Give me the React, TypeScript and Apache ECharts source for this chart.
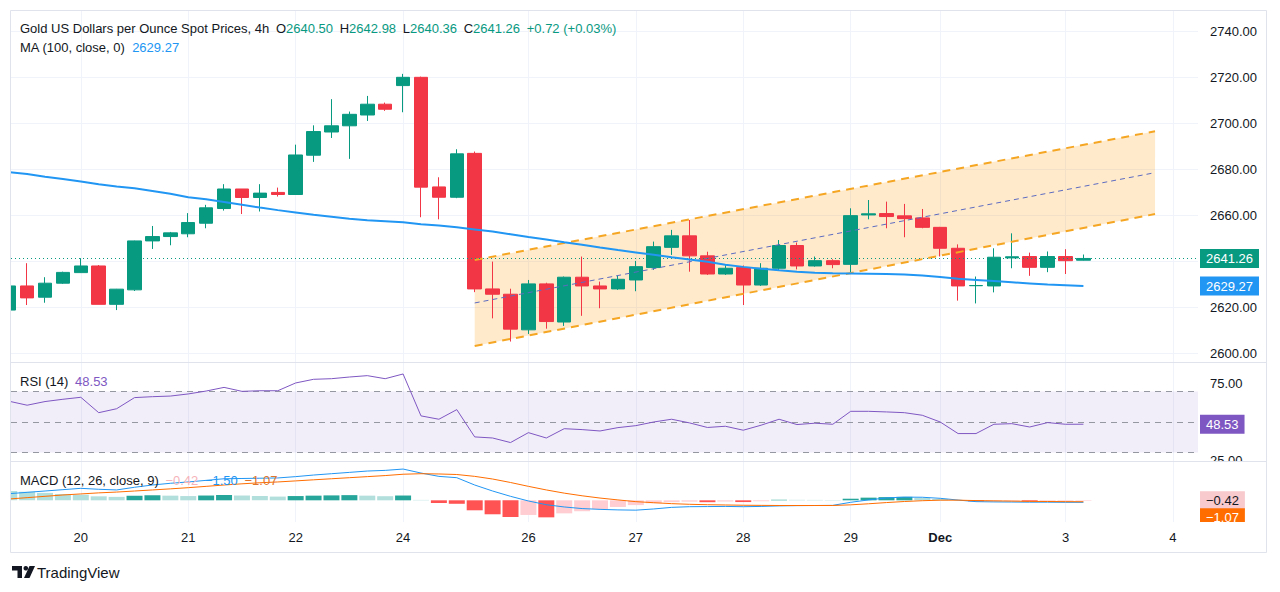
import React, { useEffect, useRef } from "react";
import * as echarts from "echarts";

// ---------- DATA ----------
const candleIndex = [-4, -3, -2, -1, 0, 1, 2, 3, 4, 5, 6, 7, 8, 9, 10, 11, 12, 13, 14, 15, 16, 17, 18, 19, 20, 21, 22, 23, 24, 25, 26, 27, 28, 29, 30, 31, 32, 33, 34, 35, 36, 37, 38, 39, 40, 41, 42, 43, 44, 45, 46, 47, 48, 49, 50, 51, 52, 53, 54, 55, 56];
const openP = [2618.8, 2629.3, 2624.4, 2630.5, 2635.1, 2638.0, 2621.3, 2627.6, 2648.9, 2650.8, 2652.0, 2656.6, 2663.0, 2671.5, 2667.8, 2670.0, 2669.1, 2686.2, 2696.3, 2699.0, 2703.7, 2708.4, 2716.5, 2720.1, 2672.4, 2667.9, 2687.0, 2628.0, 2625.7, 2610.2, 2630.2, 2613.6, 2633.1, 2629.3, 2628.0, 2631.9, 2637.3, 2646.1, 2651.1, 2642.4, 2634.5, 2637.3, 2629.7, 2637.0, 2646.9, 2638.0, 2640.3, 2638.7, 2660.2, 2660.8, 2659.8, 2658.9, 2654.8, 2645.7, 2629.4, 2629.3, 2641.5, 2642.1, 2637.4, 2642.1, 2640.5];
const closeP = [2629.3, 2624.1, 2630.5, 2635.2, 2638.0, 2621.3, 2627.9, 2648.9, 2650.8, 2652.4, 2656.9, 2663.3, 2671.5, 2667.8, 2669.7, 2669.1, 2686.3, 2696.5, 2699.0, 2704.0, 2708.4, 2706.2, 2720.1, 2672.3, 2667.9, 2686.8, 2628.0, 2625.7, 2610.5, 2630.2, 2613.8, 2633.1, 2629.3, 2628.0, 2632.2, 2637.7, 2646.4, 2651.1, 2642.4, 2634.5, 2637.0, 2629.7, 2637.0, 2646.9, 2638.0, 2640.3, 2638.6, 2659.9, 2660.7, 2659.5, 2658.6, 2654.8, 2645.7, 2629.3, 2629.5, 2641.8, 2642.0, 2637.4, 2642.1, 2640.3, 2641.26];
const lowP = [2618.5, 2621.0, 2622.0, 2630.2, 2635.0, 2621.3, 2618.8, 2627.1, 2645.4, 2647.0, 2650.5, 2654.4, 2662.1, 2660.6, 2661.7, 2668.2, 2669.0, 2683.3, 2693.7, 2684.6, 2701.1, 2705.5, 2704.9, 2659.2, 2658.3, 2667.5, 2626.6, 2615.2, 2605.1, 2608.4, 2610.7, 2611.9, 2616.3, 2619.6, 2627.6, 2627.0, 2636.3, 2642.8, 2635.5, 2634.1, 2634.1, 2621.0, 2629.3, 2635.8, 2636.5, 2637.7, 2637.0, 2634.8, 2658.3, 2654.4, 2650.5, 2654.4, 2642.1, 2622.9, 2621.7, 2626.5, 2637.0, 2633.7, 2635.3, 2634.5, 2640.36];
const highP = [2629.6, 2639.2, 2633.1, 2635.5, 2641.4, 2638.4, 2628.0, 2649.0, 2655.4, 2652.8, 2661.0, 2664.6, 2673.6, 2671.5, 2673.6, 2672.1, 2690.8, 2699.2, 2710.6, 2705.2, 2712.0, 2709.1, 2721.6, 2720.4, 2676.6, 2688.8, 2687.8, 2639.9, 2628.1, 2631.9, 2630.7, 2633.4, 2642.1, 2631.2, 2633.7, 2640.2, 2648.6, 2653.7, 2658.0, 2644.2, 2638.4, 2638.2, 2639.2, 2649.3, 2648.2, 2642.1, 2640.9, 2663.1, 2666.7, 2666.0, 2665.0, 2662.8, 2655.0, 2647.4, 2633.4, 2645.7, 2652.2, 2643.8, 2644.3, 2645.3, 2642.98];
const ma100 = [2678.8, 2678.0, 2676.8, 2675.8, 2674.8, 2673.6, 2672.6, 2671.8, 2670.6, 2669.4, 2667.9, 2667.0, 2665.8, 2664.6, 2663.4, 2662.3, 2661.3, 2660.3, 2659.4, 2658.5, 2657.9, 2657.5, 2657.0, 2656.2, 2655.6, 2654.8, 2653.9, 2653.0, 2651.8, 2650.6, 2649.5, 2648.3, 2647.2, 2646.0, 2644.9, 2643.9, 2642.9, 2641.8, 2640.8, 2639.8, 2638.5, 2637.6, 2636.8, 2636.1, 2635.5, 2635.0, 2634.8, 2634.7, 2634.6, 2634.5, 2634.3, 2633.8, 2633.2, 2632.4, 2631.9, 2631.4, 2630.9, 2630.4, 2629.9, 2629.6, 2629.27];
const rsi14 = [63.6, 61.0, 63.4, 64.9, 66.2, 56.1, 58.7, 66.0, 66.6, 67.0, 68.4, 70.3, 72.7, 70.1, 70.5, 70.5, 75.6, 78.0, 78.4, 79.5, 80.4, 78.4, 81.5, 54.0, 51.8, 58.1, 40.2, 39.5, 36.5, 43.0, 39.5, 45.6, 45.0, 44.1, 46.3, 47.6, 50.0, 51.8, 49.4, 46.4, 47.2, 44.6, 47.9, 51.8, 48.3, 49.2, 48.5, 57.0, 57.0, 56.6, 56.1, 54.4, 50.0, 42.4, 42.4, 48.5, 48.9, 46.7, 49.6, 48.5, 48.53];
const macdLine = [5.0, 6.0, 7.0, 8.0, 9.0, 8.3, 7.8, 9.8, 11.5, 12.8, 13.8, 15.0, 16.2, 16.4, 16.6, 16.8, 17.8, 19.0, 20.0, 21.0, 22.0, 22.5, 23.5, 20.5, 18.0, 17.0, 11.5, 7.0, 3.0, -0.5, -3.3, -5.0, -6.2, -6.8, -7.2, -7.4, -6.5, -5.3, -4.8, -4.7, -4.6, -4.8, -4.6, -4.2, -4.0, -3.9, -3.8, -1.5, 0.3, 1.8, 2.4, 2.3, 1.5, 0.2, -1.0, -1.2, -1.3, -1.4, -1.4, -1.5, -1.5];
const signalLine = [1.0, 2.0, 3.0, 4.0, 4.8, 5.6, 6.2, 7.0, 7.8, 8.6, 9.5, 10.5, 11.5, 12.4, 13.2, 13.8, 14.6, 15.4, 16.2, 17.0, 17.8, 18.6, 19.6, 20.0, 19.8, 19.4, 18.0, 16.0, 13.4, 10.5, 7.8, 5.4, 3.4, 1.7, 0.3, -1.0, -1.8, -2.5, -3.0, -3.3, -3.5, -3.7, -3.8, -3.9, -3.9, -3.9, -3.9, -3.4, -2.6, -1.7, -0.9, -0.3, 0.1, 0.1, -0.2, -0.4, -0.6, -0.8, -0.9, -1.0, -1.07];
const macdHist = [7.0, 6.4, 5.6, 4.8, 4.2, 3.0, 2.6, 3.4, 3.8, 3.5, 3.2, 3.6, 4.0, 3.6, 3.2, 2.8, 3.2, 3.5, 3.7, 3.9, 3.5, 3.1, 3.6, 0.3, -2.0, -2.6, -7.5, -10.5, -12.5, -11.0, -12.8, -9.8, -8.2, -6.6, -5.0, -3.6, -2.2, -1.4, -1.0, -1.4, -0.9, -1.3, -0.7, 0.4, 0.35, 0.3, 0.25, 1.2, 2.0, 2.4, 2.6, 1.8, 1.0, 0.1, -0.8, -0.7, -0.6, -0.9, -0.5, -0.5, -0.42];

const channelX = [22, 60];
const channelUpper = [2640.6, 2696.6];
const channelMid = [2621.9, 2678.6];
const channelLower = [2603.2, 2660.6];

const dayIdx = [0, 6, 12, 18, 25, 31, 37, 43, 48, 55, 61];
const dayLabels = ["20", "21", "22", "24", "26", "27", "28", "29", "Dec", "3", "4"];
const priceGrid = [2600, 2620, 2640, 2660, 2680, 2700, 2720, 2740];
const priceLabels = [2600, 2620, 2660, 2680, 2700, 2720, 2740];
const rsiLabels = [75, 25];
const rsiLevels = [70, 50, 30];

const lastPrice = 2641.26;
const lastMA = 2629.27;
const lastRSI = 48.53;
const lastHist = -0.42;
const lastSignal = -1.07;

// ---------- STYLE ----------
const FONT = "'Liberation Sans', Arial, sans-serif";
const UP = "#089981";
const DOWN = "#f23645";
const TXT = "#131722";
const GRID = "#f0f3fa";
const BORDER = "#e0e3eb";
const HIDDEN_LINE = { width: 0, color: "rgba(0,0,0,0)" };

function histColor(i: number) {
  const v = macdHist[i];
  const p = i > 0 ? macdHist[i - 1] : v;
  if (v >= 0) return v > p ? "#26a69a" : "#b2dfdb";
  return v < p ? "#ff5252" : "#ffcdd2";
}

export default function App() {
  const ref = useRef<HTMLDivElement>(null);
  useEffect(() => {
    const chart = echarts.init(ref.current!, null, { renderer: "svg" });
    const xAxisBase = (g: number) => ({
      type: "value",
      gridIndex: g,
      min: -3.9,
      max: 62.4,
      axisLine: { show: false },
      axisTick: { show: false, customValues: dayIdx },
      splitLine: { show: true, lineStyle: { color: GRID, width: 1 } },
      axisLabel: {
        show: g === 2,
        customValues: dayIdx,
        margin: 9,
        color: TXT,
        fontSize: 13,
        fontFamily: FONT,
        formatter: (v: number) => {
          const k = dayIdx.indexOf(Math.round(v));
          const s = k >= 0 ? dayLabels[k] : "";
          return s === "Dec" ? "{b|Dec}" : s;
        },
        rich: { b: { fontWeight: "bold", fontSize: 13, color: TXT, fontFamily: FONT } },
      },
    });
    const tagLabel = (text: string, bg: string, fg: string, offsetY = 0) => ({
      show: true,
      position: "end",
      distance: 2,
      formatter: text,
      backgroundColor: bg,
      color: fg,
      padding: [3, 6, 3, 6],
      fontSize: 13,
      fontFamily: FONT,
      offset: [0, offsetY],
    });
    const option: any = {
      animation: false,
      textStyle: { fontFamily: FONT },
      grid: [
        { left: 11, right: 82, top: 10, height: 352 },
        { left: 11, right: 82, top: 363, height: 98 },
        { left: 11, right: 82, top: 462, height: 60 },
      ],
      xAxis: [xAxisBase(0), xAxisBase(1), xAxisBase(2)],
      yAxis: [
        {
          type: "value",
          gridIndex: 0,
          position: "right",
          min: 2596.2,
          max: 2749.4,
          axisLine: { show: false },
          axisTick: { show: false, customValues: priceGrid },
          splitLine: { show: true, lineStyle: { color: GRID } },
          axisLabel: {
            customValues: priceLabels,
            margin: 12,
            color: TXT,
            fontSize: 13,
            fontFamily: FONT,
            formatter: (v: number) => v.toFixed(2),
          },
        },
        {
          type: "value",
          gridIndex: 1,
          position: "right",
          min: 24.4,
          max: 88.7,
          axisLine: { show: false },
          axisTick: { show: false, customValues: rsiLabels },
          splitLine: { show: false },
          axisLabel: {
            customValues: rsiLabels,
            margin: 12,
            color: TXT,
            fontSize: 13,
            fontFamily: FONT,
            formatter: (v: number) => v.toFixed(2),
          },
        },
        {
          type: "value",
          gridIndex: 2,
          position: "right",
          min: -16.3,
          max: 28.8,
          axisLine: { show: false },
          axisTick: { show: false },
          splitLine: { show: false },
          axisLabel: { show: false },
        },
      ],
      series: [
        {
          type: "custom",
          xAxisIndex: 0,
          yAxisIndex: 0,
          z: 1,
          silent: true,
          clip: true,
          data: channelX.map((x, i) => [x, channelUpper[i], channelLower[i]]),
          encode: { x: 0, y: [1, 2] },
          renderItem: (params: any, api: any) => {
            if (params.dataIndex !== 0) return null;
            const pts = [
              api.coord([channelX[0], channelUpper[0]]),
              api.coord([channelX[1], channelUpper[1]]),
              api.coord([channelX[1], channelLower[1]]),
              api.coord([channelX[0], channelLower[0]]),
            ];
            return { type: "polygon", shape: { points: pts }, style: { fill: "rgba(255,152,0,0.2)" } };
          },
        },
        {
          type: "candlestick",
          xAxisIndex: 0,
          yAxisIndex: 0,
          z: 3,
          clip: true,
          barWidth: 14,
          data: candleIndex.map((x, i) => [x, openP[i], closeP[i], lowP[i], highP[i]]),
          encode: { x: 0, y: [1, 2, 3, 4] },
          itemStyle: { color: UP, color0: DOWN, borderColor: UP, borderColor0: DOWN, borderWidth: 1 },
          markLine: {
            silent: true,
            symbol: ["none", "none"],
            animation: false,
            data: [
              {
                yAxis: lastPrice,
                lineStyle: { color: UP, width: 1, type: [1, 3] },
                label: tagLabel(lastPrice.toFixed(2), UP, "#ffffff"),
              },
            ],
          },
        },
        {
          type: "line",
          xAxisIndex: 0,
          yAxisIndex: 0,
          z: 4,
          silent: true,
          symbol: "none",
          data: channelX.map((x, i) => [x, channelUpper[i]]),
          lineStyle: { color: "#f5a623", width: 2, type: [8, 6] },
        },
        {
          type: "line",
          xAxisIndex: 0,
          yAxisIndex: 0,
          z: 4,
          silent: true,
          symbol: "none",
          data: channelX.map((x, i) => [x, channelLower[i]]),
          lineStyle: { color: "#f5a623", width: 2, type: [8, 6] },
        },
        {
          type: "line",
          xAxisIndex: 0,
          yAxisIndex: 0,
          z: 4,
          silent: true,
          symbol: "none",
          data: channelX.map((x, i) => [x, channelMid[i]]),
          lineStyle: { color: "#5c6bc0", width: 1, type: [5, 4] },
        },
        {
          type: "line",
          xAxisIndex: 0,
          yAxisIndex: 0,
          z: 5,
          silent: true,
          symbol: "none",
          data: candleIndex.map((x, i) => [x, ma100[i]]),
          lineStyle: { color: "#2196f3", width: 2 },
          markLine: {
            silent: true,
            symbol: ["none", "none"],
            data: [
              {
                yAxis: lastMA,
                lineStyle: HIDDEN_LINE,
                label: tagLabel(lastMA.toFixed(2), "#2196f3", "#ffffff"),
              },
            ],
          },
        },
        {
          type: "line",
          xAxisIndex: 1,
          yAxisIndex: 1,
          z: 5,
          silent: true,
          symbol: "none",
          data: candleIndex.map((x, i) => [x, rsi14[i]]),
          lineStyle: { color: "#7e57c2", width: 1 },
          markArea: {
            silent: true,
            itemStyle: { color: "rgba(126,87,194,0.1)" },
            data: [[{ yAxis: rsiLevels[2] }, { yAxis: rsiLevels[0] }]],
          },
          markLine: {
            silent: true,
            symbol: ["none", "none"],
            data: [
              ...rsiLevels.map((lv) => ({
                yAxis: lv,
                lineStyle: { color: "#9598a1", width: 1, type: [6, 5] },
                label: { show: false },
              })),
              {
                yAxis: lastRSI,
                lineStyle: HIDDEN_LINE,
                label: tagLabel(lastRSI.toFixed(2), "#7e57c2", "#ffffff"),
              },
            ],
          },
        },
        {
          type: "bar",
          xAxisIndex: 2,
          yAxisIndex: 2,
          z: 3,
          silent: true,
          clip: true,
          barWidth: 16,
          data: candleIndex.map((x, i) => ({ value: [x, macdHist[i]], itemStyle: { color: histColor(i) } })),
          markLine: {
            silent: true,
            symbol: ["none", "none"],
            data: [
              {
                yAxis: lastHist,
                lineStyle: HIDDEN_LINE,
                label: tagLabel("\u2212" + Math.abs(lastHist).toFixed(2), "#f8c9cd", TXT),
              },
              {
                yAxis: lastSignal,
                lineStyle: HIDDEN_LINE,
                label: tagLabel("\u2212" + Math.abs(lastSignal).toFixed(2), "#ff6d00", "#ffffff", 16),
              },
            ],
          },
        },
        {
          type: "line",
          xAxisIndex: 2,
          yAxisIndex: 2,
          z: 5,
          silent: true,
          symbol: "none",
          data: candleIndex.map((x, i) => [x, macdLine[i]]),
          lineStyle: { color: "#2196f3", width: 1 },
        },
        {
          type: "line",
          xAxisIndex: 2,
          yAxisIndex: 2,
          z: 5,
          silent: true,
          symbol: "none",
          data: candleIndex.map((x, i) => [x, signalLine[i]]),
          lineStyle: { color: "#ff6d00", width: 1 },
        },
      ],
      graphic: [
        {
          type: "text",
          x: 20,
          y: 28,
          z: 50,
          style: {
            text:
              "{t|Gold US Dollars per Ounce Spot Prices, 4h}  {t|O}{v|2640.50}  {t|H}{v|2642.98}  {t|L}{v|2640.36}  {t|C}{v|2641.26}  {v|+0.72 (+0.03%)}",
            verticalAlign: "middle",
            rich: {
              t: { fill: TXT, fontSize: 13, fontFamily: FONT },
              v: { fill: UP, fontSize: 13, fontFamily: FONT },
            },
          },
        },
        {
          type: "text",
          x: 20,
          y: 47,
          z: 50,
          style: {
            text: "{t|MA (100, close, 0)}  {b|2629.27}",
            verticalAlign: "middle",
            rich: {
              t: { fill: TXT, fontSize: 13, fontFamily: FONT },
              b: { fill: "#2196f3", fontSize: 13, fontFamily: FONT },
            },
          },
        },
        {
          type: "text",
          x: 20,
          y: 381,
          z: 50,
          style: {
            text: "{t|RSI (14)}  {p|48.53}",
            verticalAlign: "middle",
            rich: {
              t: { fill: TXT, fontSize: 13, fontFamily: FONT },
              p: { fill: "#7e57c2", fontSize: 13, fontFamily: FONT },
            },
          },
        },
        {
          type: "text",
          x: 20,
          y: 480,
          z: 50,
          style: {
            text: "{t|MACD (12, 26, close, 9)}  {h|\u22120.42}  {m|\u22121.50}  {s|\u22121.07}",
            verticalAlign: "middle",
            rich: {
              t: { fill: TXT, fontSize: 13, fontFamily: FONT },
              h: { fill: "#f6b3ba", fontSize: 13, fontFamily: FONT },
              m: { fill: "#2196f3", fontSize: 13, fontFamily: FONT },
              s: { fill: "#e0752d", fontSize: 13, fontFamily: FONT },
            },
          },
        },
        { type: "rect", z: 90, silent: true, shape: { x: 0, y: 0, width: 10.5, height: 592 }, style: { fill: "#ffffff" } },
        { type: "rect", z: 90, silent: true, shape: { x: 1199, y: 462, width: 67, height: 8 }, style: { fill: "#ffffff" } },
        { type: "rect", z: 90, silent: true, shape: { x: 1199, y: 522, width: 67, height: 8 }, style: { fill: "#ffffff" } },
        {
          type: "rect",
          z: 100,
          silent: true,
          shape: { x: 10.5, y: 10.5, width: 1256, height: 542 },
          style: { fill: "none", stroke: BORDER, lineWidth: 1 },
        },
        { type: "line", z: 100, silent: true, shape: { x1: 10.5, y1: 362.5, x2: 1266.5, y2: 362.5 }, style: { stroke: BORDER, lineWidth: 1 } },
        { type: "line", z: 100, silent: true, shape: { x1: 10.5, y1: 461.5, x2: 1266.5, y2: 461.5 }, style: { stroke: BORDER, lineWidth: 1 } },
        {
          type: "group",
          x: 12,
          y: 566,
          z: 100,
          silent: true,
          children: [
            { type: "polygon", shape: { points: [[0, 0], [10, 0], [10, 12], [5.5, 12], [5.5, 4.5], [0, 4.5]] }, style: { fill: TXT } },
            { type: "circle", shape: { cx: 13.8, cy: 2.3, r: 2.3 }, style: { fill: TXT } },
            { type: "polygon", shape: { points: [[17.5, 0], [23, 0], [17.5, 12], [12, 12]] }, style: { fill: TXT } },
            {
              type: "text",
              x: 25,
              y: 6,
              style: { text: "TradingView", fill: TXT, fontSize: 15, fontFamily: FONT, verticalAlign: "middle" },
            },
          ],
        },
      ],
    };
    chart.setOption(option);
    return () => chart.dispose();
  }, []);
  return <div ref={ref} style={{ position: "fixed", left: 0, top: 0, width: 1280, height: 592, background: "#ffffff" }} />;
}
